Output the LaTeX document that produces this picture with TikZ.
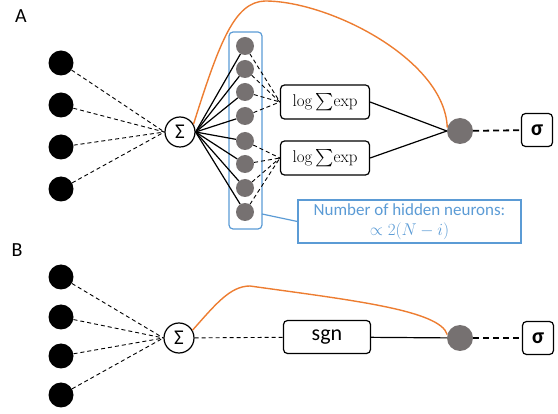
\RequirePackage{fix-cm}
\documentclass[tikz,border=0pt]{standalone}
\usepackage{amsmath}
\usepackage[no-math]{fontspec}
\setmainfont{Carlito}
\usetikzlibrary{positioning}
\definecolor{nngray}{RGB}{118,113,113}
\definecolor{nnorange}{RGB}{237,125,49}
\definecolor{nnblue}{RGB}{91,155,213}

\begin{document}
\begin{tikzpicture}[x=1pt,y=-1pt,
  every node/.style={font=\fontsize{17}{20}\selectfont},
  innode/.style={circle,fill=black,minimum size=25pt,inner sep=0pt},
  sumnode/.style={circle,draw,line width=1.2pt,fill=white,minimum size=30pt,inner sep=0pt,
                  font=\fontsize{21}{23}\selectfont},
  hidnode/.style={circle,fill=nngray,minimum size=18pt,inner sep=0pt},
  outnode/.style={circle,fill=nngray,minimum size=26pt,inner sep=0pt},
  opbox/.style={draw,line width=1.2pt,rounded corners=4pt,fill=white,
                minimum width=89pt,minimum height=34pt,inner sep=0pt},
  lsebox/.style={opbox,font=\fontsize{17}{19}\selectfont},
  sigbox/.style={draw,line width=1.2pt,rounded corners=4pt,fill=white,
                 minimum width=31pt,minimum height=33pt,inner sep=0pt,
                 font=\fontsize{22}{24}\selectfont\bfseries},
  thindash/.style={line width=0.9pt,dash pattern=on 4pt off 3pt},
  thickdash/.style={line width=1.8pt,dash pattern=on 6pt off 4pt},
  solidline/.style={line width=1.2pt},
  orangeline/.style={draw=nnorange,line width=1.4pt},
  panel/.style={font=\fontsize{20}{22}\selectfont}
]
  \useasboundingbox (0,0) rectangle (558,414);

  % panel A
  \node[panel] (labA) at (21,16) {A};
  \foreach \i/\y in {1/63,2/105,3/147,4/189}
    \node[innode] (inA\i) at (61,\y) {};
  \node[sumnode] (sumA) at (180,132) {Σ};
  \foreach \i in {1,...,4}
    \draw[thindash] (inA\i) -- (sumA.west);

  \node[draw=nnblue,line width=1.2pt,rounded corners=4pt,minimum width=33pt,
        minimum height=197pt,inner sep=0pt] (hidbox) at (245.5,130.5) {};
  \foreach \i/\y in {1/46,2/69,3/92,4/116,5/141,6/164,7/188,8/212}
    \node[hidnode] (hid\i) at (245,\y) {};

  \node[lsebox] (lseA) at (325,102) {$\mathrm{log}\,{\textstyle\sum}\mathrm{exp}$};
  \node[lsebox] (lseB) at (325,158) {$\mathrm{log}\,{\textstyle\sum}\mathrm{exp}$};
  \foreach \i in {1,...,8}
    \draw[solidline] (sumA.east) -- (hid\i);
  \foreach \i in {1,...,4}
    \draw[thindash] (hid\i) -- (lseA.west);
  \foreach \i in {5,...,8}
    \draw[thindash] (hid\i) -- (lseB.west);

  \node[outnode] (outA) at (460,131) {};
  \node[sigbox] (sigA) at (537,130) {σ};
  \draw[solidline] (lseA.east) -- (outA.west);
  \draw[solidline] (lseB.east) -- (outA.west);
  \draw[thickdash] (outA) -- (sigA);
  \draw[orangeline] (sumA.30) .. controls (220,40) and (235,2) .. (265,1)
    .. controls (330,1) and (445,60) .. (outA.165);

  \node[draw=nnblue,line width=1.2pt,text=nnblue,minimum width=223pt,
        minimum height=43pt,inner sep=2pt,align=center] (note) at (409.5,221.5)
        {Number of hidden neurons:\\ $\propto 2(N-i)$};
  \coordinate (hbe) at (262,214);
  \draw[draw=nnblue,line width=1.2pt] (hbe) -- (note.west);

  % panel B
  \node[panel] (labB) at (17,250) {B};
  \foreach \i/\y in {1/277,2/317,3/356,4/395}
    \node[innode] (inB\i) at (61,\y) {};
  \node[sumnode] (sumB) at (179,338) {Σ};
  \foreach \i in {1,...,4}
    \draw[thindash] (inB\i) -- (sumB.west);

  \node[opbox,minimum width=87pt,minimum height=33pt,
        font=\fontsize{22}{24}\selectfont] (sgn) at (327,337) {sgn};
  \node[outnode] (outB) at (460,338) {};
  \node[sigbox] (sigB) at (538,338) {σ};
  \draw[thindash] (sumB) -- (sgn);
  \draw[solidline] (sgn) -- (outB);
  \draw[thickdash] (outB) -- (sigB);
  \draw[orangeline] (sumB.30) .. controls (215,305) and (230,286) .. (250,286)
    .. controls (350,300) and (440,310) .. (outB.165);
\end{tikzpicture}
\end{document}
